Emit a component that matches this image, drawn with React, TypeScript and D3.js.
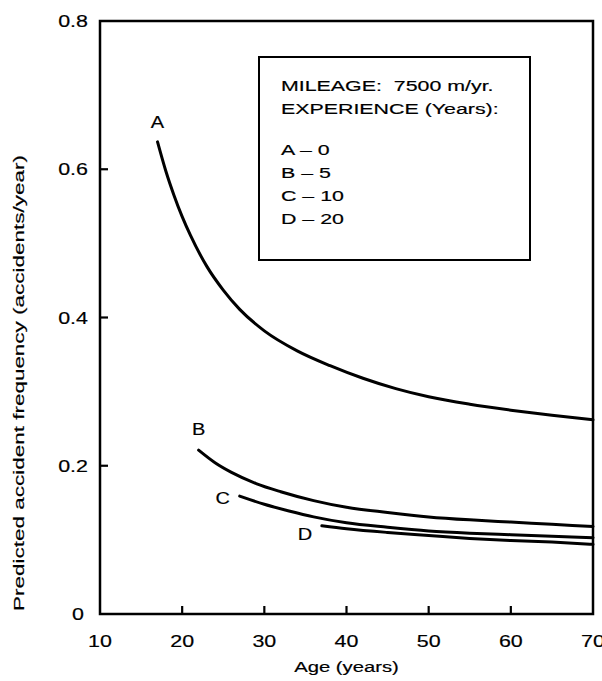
import React from "react";
import * as d3 from "d3";

const agesA = [17, 18, 19, 20, 21, 23, 25, 27, 30, 34, 38, 42, 46, 50, 55, 60, 65, 70];
const valsA = [0.637, 0.598, 0.565, 0.536, 0.511, 0.469, 0.437, 0.411, 0.382, 0.355, 0.335, 0.318, 0.304, 0.293, 0.283, 0.275, 0.268, 0.262];
const agesB = [22, 24, 26, 29, 32, 36, 40, 45, 50, 55, 60, 65, 70];
const valsB = [0.221, 0.204, 0.191, 0.176, 0.165, 0.153, 0.144, 0.137, 0.131, 0.127, 0.124, 0.121, 0.118];
const agesC = [27, 30, 33, 36, 40, 45, 50, 55, 60, 65, 70];
const valsC = [0.159, 0.148, 0.139, 0.131, 0.123, 0.117, 0.112, 0.109, 0.107, 0.105, 0.103];
const agesD = [37, 40, 45, 50, 55, 60, 65, 70];
const valsD = [0.119, 0.115, 0.11, 0.106, 0.102, 0.099, 0.097, 0.094];

const seriesNames = ["A", "B", "C", "D"];
const experienceYears = [0, 5, 10, 20];
const xTicks = [10, 20, 30, 40, 50, 60, 70];
const yTicks = [0, 0.2, 0.4, 0.6, 0.8];
const xTickLabels = ["10", "20", "30", "40", "50", "60", "70"];
const yTickLabels = ["0", "0.2", "0.4", "0.6", "0.8"];

const FONT = "'Liberation Sans', Arial, sans-serif";

function Txt({ x, y, size, sx = 1.3, anchor = "start", rotate = 0, children }: any) {
  return (
    <g transform={`translate(${x},${y}) rotate(${rotate}) scale(${sx},1)`}>
      <text
        x={0}
        y={0}
        fontSize={size}
        fontFamily={FONT}
        textAnchor={anchor}
        fill="#000"
        stroke="#000"
        strokeWidth={0.18}
        style={{ whiteSpace: "pre" }}
      >
        {children}
      </text>
    </g>
  );
}

export default function App() {
  const W = 602;
  const H = 681;
  const x = d3.scaleLinear().domain([10, 70]).range([100, 593]);
  const y = d3.scaleLinear().domain([0, 0.8]).range([614, 21]);

  const series = [
    { name: seriesNames[0], ages: agesA, vals: valsA },
    { name: seriesNames[1], ages: agesB, vals: valsB },
    { name: seriesNames[2], ages: agesC, vals: valsC },
    { name: seriesNames[3], ages: agesD, vals: valsD },
  ];

  const line = d3
    .line<[number, number]>()
    .x((d) => x(d[0]))
    .y((d) => y(d[1]))
    .curve(d3.curveMonotoneX);

  const labelOffsets = [
    [0, -14],
    [0, -15],
    [-17, 8],
    [-17, 14],
  ];

  const [x0, x1] = x.range();
  const [yb, yt] = y.range();

  return (
    <svg
      width={W}
      height={H}
      viewBox={`0 0 ${W} ${H}`}
      style={{ position: "absolute", left: 0, top: 0, background: "#fff" }}
    >
      <rect x={0} y={0} width={W} height={H} fill="#fff" />
      <rect
        x={x0}
        y={yt}
        width={x1 - x0}
        height={yb - yt}
        fill="none"
        stroke="#000"
        strokeWidth={2.5}
      />
      {xTicks.slice(1, -1).map((t) => (
        <line key={"xt" + t} x1={x(t)} x2={x(t)} y1={yb} y2={yb - 8} stroke="#000" strokeWidth={2.2} />
      ))}
      {xTicks.map((t, i) => (
        <Txt key={"xl" + t} x={x(t)} y={yb + 33} size={16.5} anchor="middle">
          {xTickLabels[i]}
        </Txt>
      ))}
      {yTicks.slice(1, -1).map((t) => (
        <line key={"yt" + t} x1={x0} x2={x0 + 8} y1={y(t)} y2={y(t)} stroke="#000" strokeWidth={2.2} />
      ))}
      {yTicks.map((t, i) => (
        <Txt key={"yl" + t} x={t === 0 ? 84 : 88} y={y(t) + 6} size={16.5} anchor="end">
          {yTickLabels[i]}
        </Txt>
      ))}
      <Txt x={(x0 + x1) / 2} y={672} size={15} sx={1.35} anchor="middle">
        Age (years)
      </Txt>
      <Txt x={24} y={383} size={15.5} sx={1.45} anchor="middle" rotate={-90}>
        Predicted accident frequency (accidents/year)
      </Txt>

      {series.map((s, i) => {
        const pts = s.ages.map((a, j) => [a, s.vals[j]] as [number, number]);
        const [ox, oy] = labelOffsets[i];
        return (
          <g key={s.name}>
            <path d={line(pts) || ""} fill="none" stroke="#000" strokeWidth={3} strokeLinecap="round" />
            <Txt x={x(s.ages[0]) + ox} y={y(s.vals[0]) + oy} size={16} sx={1.25} anchor="middle">
              {s.name}
            </Txt>
          </g>
        );
      })}

      <rect x={259} y={57} width={271} height={203} fill="#fff" stroke="#000" strokeWidth={2} />
      <Txt x={281} y={91} size={15.5} sx={1.38}>
        {"MILEAGE:  7500 m/yr."}
      </Txt>
      <Txt x={281} y={114} size={15.5} sx={1.38}>
        EXPERIENCE (Years):
      </Txt>
      {seriesNames.map((n, i) => (
        <Txt key={"lg" + n} x={281} y={155 + i * 23} size={15.5} sx={1.38}>
          {`${n} \u2013 ${experienceYears[i]}`}
        </Txt>
      ))}
    </svg>
  );
}
